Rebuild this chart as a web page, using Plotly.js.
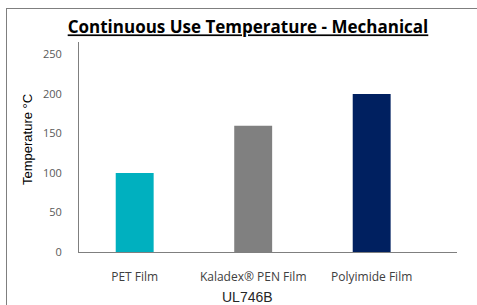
<!DOCTYPE html>
<html>
<head>
<meta charset="utf-8">
<script src="https://cdn.plot.ly/plotly-3.0.1.min.js"></script>
<style>
html,body{margin:0;padding:0;background:#fff;overflow:hidden;}
#frame{position:absolute;left:6px;top:8px;width:600px;height:400px;border-top:1px solid #7f7f7f;border-left:1px solid #7f7f7f;pointer-events:none;z-index:5;}
#chart{position:absolute;left:0;top:0;width:477px;height:305px;}
</style>
</head>
<body>
<div id="chart"></div>
<div id="frame"></div>
<script>
const categories = ["PET Film", "Kaladex® PEN Film", "Polyimide Film"];
const temperatures = [100, 160, 200];
const barColors = ["#00B0BF", "#808080", "#002060"];
const yTickValues = [0, 50, 100, 150, 200, 250];
const chartTitle = "Continuous Use Temperature - Mechanical";
const xAxisTitle = "UL746B";
const yAxisTitle = "Temperature °C";

const trace = {
  type: "bar",
  x: categories,
  y: temperatures,
  marker: {color: barColors},
  width: 0.32,
  hoverinfo: "none"
};

const layout = {
  width: 477,
  height: 305,
  margin: {l: 79, r: 20, t: 42, b: 53},
  paper_bgcolor: "#ffffff",
  plot_bgcolor: "#ffffff",
  showlegend: false,
  title: {
    text: "<b><u>" + chartTitle + "</u></b>",
    font: {family: "Open Sans, Noto Sans, sans-serif", size: 17, color: "#000000"},
    x: 248/477, xanchor: "center", xref: "container", y: 0.91, yanchor: "middle", yref: "container"
  },
  xaxis: {
    type: "category",
    range: [-0.47, 2.72],
    showline: true, linecolor: "#7f7f7f", linewidth: 1,
    showgrid: false, zeroline: false, ticks: "",
    ticklabelstandoff: 14,
    tickfont: {family: "Open Sans, Noto Sans, sans-serif", size: 12, color: "#404040"}
  },
  yaxis: {
    range: [0, 266],
    tickvals: yTickValues,
    showline: true, linecolor: "#7f7f7f", linewidth: 1,
    showgrid: false, zeroline: false, ticks: "",
    ticklabelstandoff: 14,
    tickfont: {family: "Open Sans, Noto Sans, sans-serif", size: 11, color: "#595959"}
  },
  annotations: [
    {
      text: xAxisTitle, xref: "paper", yref: "paper",
      x: (247 - 79) / 378, y: (252 - 297) / 210, xanchor: "center", yanchor: "middle",
      showarrow: false,
      font: {family: "Liberation Sans, Arial, sans-serif", size: 14, color: "#262626"}
    },
    {
      text: yAxisTitle, xref: "paper", yref: "paper", textangle: -90,
      x: (27 - 79) / 378, y: (252 - 140) / 210, xanchor: "center", yanchor: "middle",
      showarrow: false,
      font: {family: "Liberation Sans, Arial, sans-serif", size: 13, color: "#000000"}
    }
  ]
};

Plotly.newPlot("chart", [trace], layout, {displayModeBar: false, staticPlot: true});
</script>
</body>
</html>
